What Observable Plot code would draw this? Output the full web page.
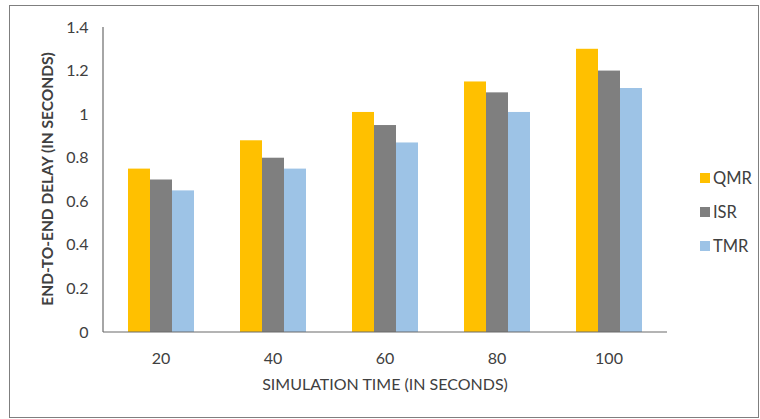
<!DOCTYPE html>
<html><head><meta charset="utf-8">
<script src="https://cdn.jsdelivr.net/npm/d3@7"></script>
<script src="https://cdn.jsdelivr.net/npm/@observablehq/plot@0.6"></script>
<style>
body{margin:0;background:#fff;font-family:Lato,"Open Sans",sans-serif;color:#404040;}
#wrap{position:relative;width:760px;height:419px;overflow:hidden;background:#fff;}
#frame{position:absolute;left:9px;top:5px;width:750px;height:413px;border:1.5px solid #7f7f7f;box-sizing:border-box;}
#chart{position:absolute;left:0;top:0;}
.title{position:absolute;white-space:nowrap;font-size:16px;color:#404040;}
#xt{left:385px;top:383px;transform:translate(-50%,-50%);}
#yt{left:47px;top:179px;transform:translate(-50%,-50%) rotate(-90deg);font-weight:bold;font-size:15.5px;}
#legend{position:absolute;left:700px;top:0;}
.item{position:absolute;left:0;display:flex;align-items:center;font-size:16.5px;white-space:nowrap;transform:translateY(-50%);}
.sw{width:10px;height:10px;margin-right:3px;}
</style></head>
<body><div id="wrap"><div id="frame"></div><div id="chart"></div>
<div class="title" id="xt"></div><div class="title" id="yt"></div><div id="legend"></div></div>
<script>
const times = ["20","40","60","80","100"];
const series = ["QMR","ISR","TMR"];
const qmr = [0.75,0.88,1.01,1.15,1.30];
const isr = [0.70,0.80,0.95,1.10,1.20];
const tmr = [0.65,0.75,0.87,1.01,1.12];
const colors = ["#FFC000","#7F7F7F","#9DC3E6"];
const yTicks = [0,0.2,0.4,0.6,0.8,1,1.2,1.4];
const yTickLabels = ["0","0.2","0.4","0.6","0.8","1","1.2","1.4"];
const xTitle = "SIMULATION TIME (IN SECONDS)";
const yTitle = "END-TO-END DELAY (IN SECONDS)";

const values = [qmr, isr, tmr];
const rows = [];
series.forEach((s,i)=> times.forEach((t,j)=> rows.push({time:t, series:s, value:values[i][j]})));

const plot = Plot.plot({
  width:760, height:419,
  marginLeft:103, marginRight:93, marginTop:27, marginBottom:87,
  style:{background:"transparent", fontFamily:"Lato, 'Open Sans', sans-serif", fontSize:"16px", color:"#404040", overflow:"visible"},
  facet:{data:rows, x:"time"},
  fx:{domain:times, paddingInner:0.4, paddingOuter:0.2, label:null, tickSize:0, tickPadding:20, axis:"bottom"},
  x:{domain:series, padding:0, axis:null},
  y:{domain:[0,1.4], ticks:yTicks, tickFormat:d=>yTickLabels[yTicks.indexOf(d)], tickSize:0, tickPadding:39, label:null},
  color:{domain:series, range:colors},
  marks:[
    Plot.barY(rows, {x:"series", y:"value", fill:"series"})
  ]
});
document.getElementById("chart").appendChild(plot);

// axis lines drawn from the plot's own scales
const ysd = plot.scale("y"), fxd = plot.scale("fx");
const ys = d3.scaleLinear(ysd.domain, ysd.range);
const [x0, x1] = [Math.min(...fxd.range), Math.max(...fxd.range)];
const svg = d3.select(plot.tagName.toLowerCase()==="svg" ? plot : plot.querySelector("svg"));
svg.append("line").attr("x1",x0).attr("x2",x1).attr("y1",ys(0)).attr("y2",ys(0)).attr("stroke","#6b6b6b").attr("stroke-width",1.2);
svg.append("line").attr("x1",x0).attr("x2",x0).attr("y1",ys(0)).attr("y2",ys(1.4)).attr("stroke","#6b6b6b").attr("stroke-width",1.2);

document.getElementById("xt").textContent = xTitle;
document.getElementById("yt").textContent = yTitle;
const legendY = [178, 212, 246];
const lg = document.getElementById("legend");
series.forEach((s,i)=>{
  const d = document.createElement("div");
  d.className = "item"; d.style.top = legendY[i]+"px";
  d.innerHTML = `<span class="sw" style="background:${colors[i]}"></span><span>${s}</span>`;
  lg.appendChild(d);
});
</script>
</body></html>
